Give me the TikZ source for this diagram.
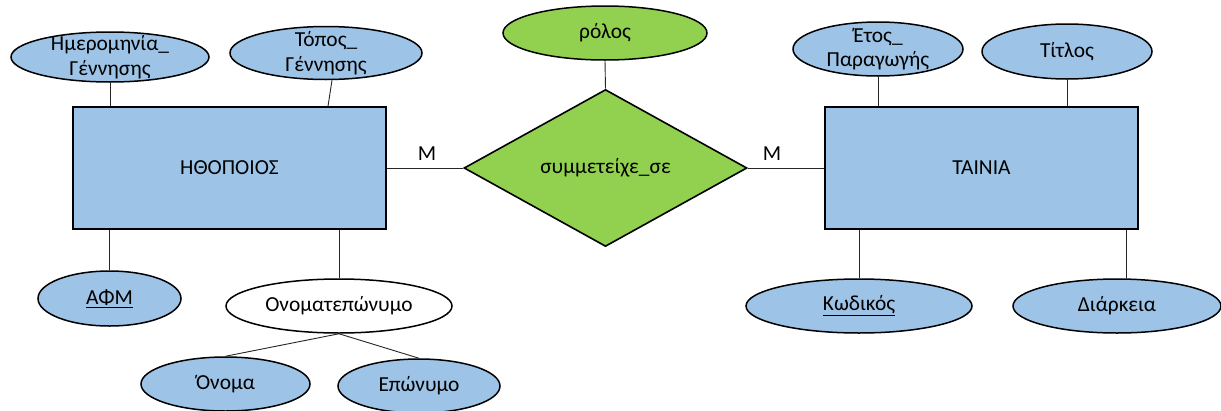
\documentclass[tikz,border=0pt]{standalone}
\usepackage{fontspec}
\setmainfont{Carlito}
\usepackage{xcolor}
\usetikzlibrary{shapes.geometric}
\definecolor{attrblue}{RGB}{157,195,230}
\definecolor{relgreen}{RGB}{146,208,80}

\begin{document}
\begin{tikzpicture}[x=1pt,y=-1pt,
    every node/.style={font=\fontsize{21.4}{24.5}\selectfont},
    entity/.style={draw,line width=1.6pt,fill=attrblue,minimum width=313pt,minimum height=122pt,inner sep=0pt},
    attr/.style 2 args={ellipse,draw,line width=1.5pt,fill=attrblue,inner sep=0pt,minimum width=#1,minimum height=#2},
    link/.style={line width=0.9pt,draw=black!85}]
    \useasboundingbox (0,0) rectangle (1221,410);

    % entities and relationship
    \node[entity] (hth) at (229.5,168) {ΗΘΟΠΟΙΟΣ};
    \node[entity] (tain) at (981.5,168) {ΤΑΙΝΙΑ};
    \node[diamond,draw,line width=1.6pt,fill=relgreen,minimum width=283pt,minimum height=157pt,inner sep=0pt] (symm) at (605.5,168) {συμμετείχε\_σε};
    \node (mleft) at (427,154) {Μ};
    \node (mright) at (772,154) {Μ};

    % attributes
    \node[attr={198pt}{50pt},label={[align=center]center:Ημερομηνία\_\\Γέννησης}] (hmer) at (110,57) {};
    \node[attr={192pt}{53pt},label={[align=center]center:Τόπος\_\\Γέννησης}] (topos) at (326,53) {};
    \node[attr={204pt}{54pt},fill=relgreen] (rolos) at (605,33) {ρόλος};
    \node[attr={170pt}{54pt},label={[align=center]center:Έτος\_\\Παραγωγής}] (etos) at (878,49) {};
    \node[attr={170pt}{55pt}] (titl) at (1067,51.5) {Τίτλος};
    \node[attr={143pt}{55pt}] (afm) at (109.5,298.5) {\underline{ΑΦΜ}};
    \node[attr={226pt}{54pt},fill=white] (onep) at (339,306) {Ονοματεπώνυμο};
    \node[attr={169pt}{54pt}] (onoma) at (225.5,384) {Όνομα};
    \node[attr={162pt}{54pt}] (epon) at (419,386) {Επώνυμο};
    \node[attr={226pt}{54pt}] (kod) at (859,306) {\underline{Κωδικός}};
    \node[attr={208pt}{54pt}] (diark) at (1117,306) {Διάρκεια};

    % connectors
    \draw[link] (hth.east) -- (symm.west);
    \draw[link] (symm.east) -- (tain.west);
    \draw[link] (rolos.south) -- (symm.north);
    \draw[link] (hmer.south) -- (hmer.south |- hth.north);
    \draw[link] ([xshift=6pt]topos.south) -- ([xshift=2pt]topos.south |- hth.north);
    \draw[link] (afm.north) -- (afm.north |- hth.south);
    \draw[link] (onep.north) -- (onep.north |- hth.south);
    \draw[link] (onep.south) -- (onoma.north);
    \draw[link] (onep.south) -- (epon.north);
    \draw[link] (etos.south) -- (etos.south |- tain.north);
    \draw[link] (titl.south) -- (titl.south |- tain.north);
    \draw[link] (kod.north) -- (kod.north |- tain.south);
    \draw[link] ([xshift=9pt]diark.north) -- ([xshift=9pt]diark.north |- tain.south);
\end{tikzpicture}
\end{document}
